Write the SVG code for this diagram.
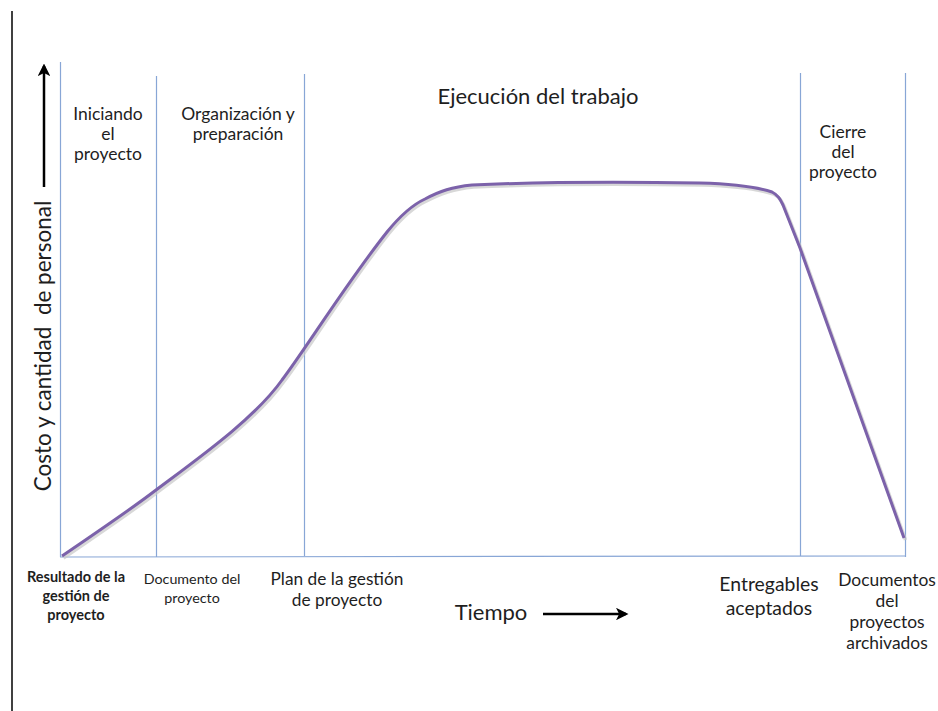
<svg xmlns="http://www.w3.org/2000/svg" width="938" height="711" viewBox="0 0 938 711">
<defs>
<style>
.t{font-family:Lato,"Open Sans","Liberation Sans",sans-serif;fill:#1e1e1e;text-anchor:middle}
.b{stroke:#88a6d6;stroke-width:1.2;fill:none}
.k{stroke:#000;stroke-width:2.5;fill:none}
</style>
<marker id="ah" viewBox="0 0 10 10" refX="8" refY="5" markerWidth="5" markerHeight="5" orient="auto-start-reverse">
<path d="M0,0 L10,5 L0,10 L2.5,5 Z" fill="#000"/>
</marker>
</defs>
<rect width="938" height="711" fill="#fff"/>
<line x1="12" y1="11" x2="12" y2="711" stroke="#000" stroke-width="1.5"/>
<g id="grid">
<line class="b" x1="60.5" y1="62" x2="60.5" y2="557"/>
<line class="b" x1="156.5" y1="76" x2="156.5" y2="557"/>
<line class="b" x1="304.5" y1="74" x2="304.5" y2="556"/>
<line class="b" x1="800.5" y1="73" x2="800.5" y2="556"/>
<line class="b" x1="905.5" y1="73" x2="905.5" y2="557"/>
<line class="b" x1="60" y1="557" x2="906" y2="556"/>
</g>
<g id="connectors">
<line class="k" x1="44" y1="187" x2="44" y2="66" marker-end="url(#ah)"/>
<line class="k" x1="543" y1="614" x2="626" y2="614" marker-end="url(#ah)"/>
<path d="M62,556 C100,530 130,510 156,490 C200,457 255,418 282,380 C305,350 345,285 387,232 C400,216 412,205 425,199 C440,191 452,187 472,185 C540,182 640,182 700,183 C735,184 760,188 772,192 C778,195 780,199 783,205 L800,248 L904,538" fill="none" stroke="#c8c8c8" stroke-width="3.5" transform="translate(1.5,2)" opacity="0.7"/>
<path d="M62,556 C100,530 130,510 156,490 C200,457 255,418 282,380 C305,350 345,285 387,232 C400,216 412,205 425,199 C440,191 452,187 472,185 C540,182 640,182 700,183 C735,184 760,188 772,192 C778,195 780,199 783,205 L800,248 L904,538" fill="none" stroke="#7c62aa" stroke-width="3" stroke-linejoin="round"/>
</g>
<g id="label-y"><text class="t" transform="translate(51,346) rotate(-90)" font-size="22.5" xml:space="preserve" style="white-space:pre">Costo y cantidad  de personal</text></g>
<g id="phase-iniciando"><text class="t" font-size="17.5"><tspan x="108" y="120">Iniciando</tspan><tspan x="108" y="140">el</tspan><tspan x="108" y="160">proyecto</tspan></text></g>
<g id="phase-organizacion"><text class="t" font-size="17.5"><tspan x="238" y="120">Organización y</tspan><tspan x="238" y="140">preparación</tspan></text></g>
<g id="phase-ejecucion"><text class="t" font-size="22" x="538" y="104">Ejecución del trabajo</text></g>
<g id="phase-cierre"><text class="t" font-size="17.5"><tspan x="843" y="138">Cierre</tspan><tspan x="843" y="158">del</tspan><tspan x="843" y="178">proyecto</tspan></text></g>
<g id="out-resultado"><text class="t" font-size="14.5" font-weight="bold"><tspan x="76" y="582">Resultado de la</tspan><tspan x="76" y="601">gestión de</tspan><tspan x="76" y="620">proyecto</tspan></text></g>
<g id="out-documento"><text class="t" font-size="14.3"><tspan x="192" y="584">Documento del</tspan><tspan x="192" y="603">proyecto</tspan></text></g>
<g id="out-plan"><text class="t" font-size="17.3"><tspan x="337" y="585">Plan de la gestión</tspan><tspan x="337" y="606">de proyecto</tspan></text></g>
<g id="out-entregables"><text class="t" font-size="19.4"><tspan x="769" y="591">Entregables</tspan><tspan x="769" y="615">aceptados</tspan></text></g>
<g id="out-archivados"><text class="t" font-size="17.4"><tspan x="887" y="586">Documentos</tspan><tspan x="887" y="607">del</tspan><tspan x="887" y="628">proyectos</tspan><tspan x="887" y="649">archivados</tspan></text></g>
<g id="label-x"><text class="t" font-size="22" x="491" y="620">Tiempo</text></g>
</svg>
